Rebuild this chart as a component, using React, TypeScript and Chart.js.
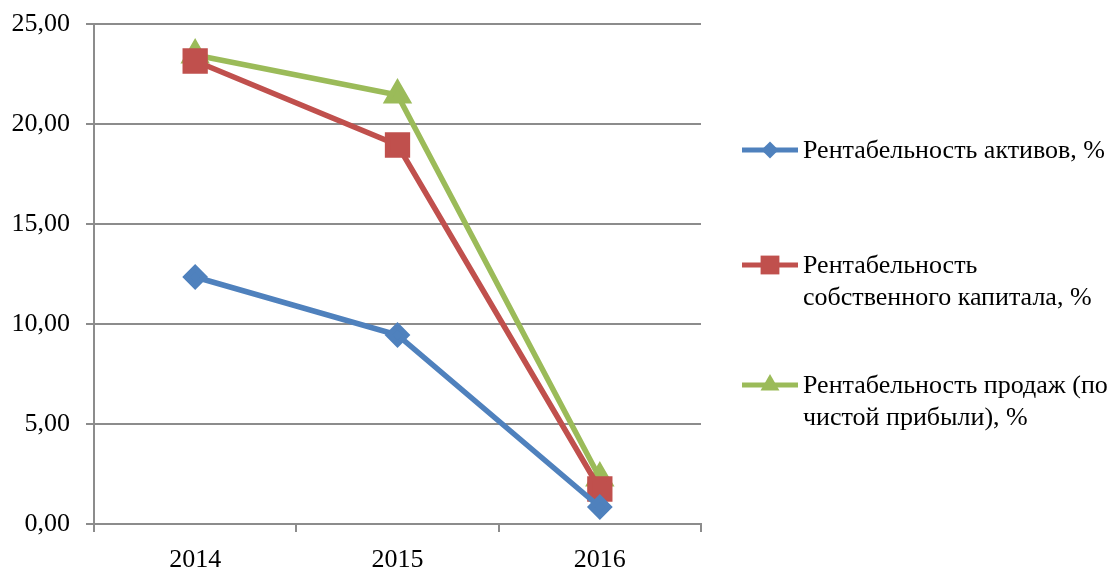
import React, { useEffect, useRef } from "react";
import { Chart, registerables } from "chart.js";

Chart.register(...registerables);

const years = ["2014", "2015", "2016"];
const assetsReturn = [12.35, 9.45, 0.85];
const equityReturn = [23.15, 18.95, 1.75];
const salesReturn = [23.45, 21.45, 2.3];

const seriesNames = [
  ["Рентабельность активов, %"],
  ["Рентабельность", "собственного капитала, %"],
  ["Рентабельность продаж (по", "чистой прибыли), %"],
];

const BLUE = "#4F81BD";
const RED = "#C0504D";
const GREEN = "#9BBB59";
const GRID = "#8c8c8c";
const FONT = "'Liberation Serif', 'Times New Roman', serif";
const FONT_SIZE = 26;

function drawMarker(ctx: CanvasRenderingContext2D, style: string, x: number, y: number, r: number) {
  ctx.beginPath();
  if (style === "rectRot") {
    ctx.moveTo(x, y - r);
    ctx.lineTo(x + r, y);
    ctx.lineTo(x, y + r);
    ctx.lineTo(x - r, y);
  } else if (style === "rect") {
    const h = r * Math.SQRT1_2;
    ctx.rect(x - h, y - h, 2 * h, 2 * h);
  } else {
    ctx.moveTo(x, y - r);
    ctx.lineTo(x + r * Math.cos(Math.PI / 6), y + r / 2);
    ctx.lineTo(x - r * Math.cos(Math.PI / 6), y + r / 2);
  }
  ctx.closePath();
  ctx.fill();
}

// Legend on the right, with wrapped labels
const sideLegend = {
  id: "sideLegend",
  afterDraw(chart: any) {
    const ctx: CanvasRenderingContext2D = chart.ctx;
    const rows = [150, 265, 385];
    ctx.save();
    chart.data.datasets.forEach((ds: any, i: number) => {
      const y = rows[i];
      ctx.strokeStyle = ds.borderColor;
      ctx.lineWidth = 5;
      ctx.beginPath();
      ctx.moveTo(742, y);
      ctx.lineTo(798, y);
      ctx.stroke();
      ctx.fillStyle = ds.backgroundColor;
      drawMarker(ctx, ds.pointStyle, 770, y, ds.pointRadius * 0.95);
      ctx.fillStyle = "#000";
      ctx.font = `${FONT_SIZE}px ${FONT}`;
      ctx.textBaseline = "middle";
      ctx.textAlign = "left";
      seriesNames[i].forEach((line, k) => {
        ctx.fillText(line, 803, y + 1 + k * 32);
      });
    });
    ctx.restore();
  },
};

export default function App() {
  const ref = useRef<HTMLCanvasElement>(null);

  useEffect(() => {
    if (!ref.current) return;
    const chart = new Chart(ref.current, {
      type: "line",
      data: {
        labels: years,
        datasets: [
          {
            label: seriesNames[0].join(" "),
            data: assetsReturn,
            borderColor: BLUE,
            backgroundColor: BLUE,
            borderWidth: 5.5,
            pointStyle: "rectRot",
            pointRadius: 9,
            pointHoverRadius: 9,
          },
          {
            label: seriesNames[1].join(" "),
            data: equityReturn,
            borderColor: RED,
            backgroundColor: RED,
            borderWidth: 5.5,
            pointStyle: "rect",
            pointRadius: 14,
            pointHoverRadius: 14,
          },
          {
            label: seriesNames[2].join(" "),
            data: salesReturn,
            borderColor: GREEN,
            backgroundColor: GREEN,
            borderWidth: 5.5,
            pointStyle: "triangle",
            pointRadius: 11.5,
            pointHoverRadius: 11.5,
          },
        ],
      },
      options: {
        animation: false,
        responsive: false,
        layout: { padding: { top: 24, right: 414, bottom: 0, left: 0 } },
        plugins: {
          legend: { display: false },
          tooltip: { enabled: false },
        },
        scales: {
          x: {
            offset: true,
            grid: {
              offset: true,
              drawOnChartArea: false,
              drawTicks: true,
              tickLength: 8,
              color: GRID,
              lineWidth: 2,
            },
            border: { display: true, color: GRID, width: 2 },
            ticks: {
              color: "#000",
              font: { family: FONT, size: FONT_SIZE },
              padding: 13,
            },
            afterFit(scale: any) {
              scale.height = 45;
              scale.paddingLeft = 0;
              scale.paddingRight = 0;
            },
          },
          y: {
            min: 0,
            max: 25,
            ticks: {
              stepSize: 5,
              color: "#000",
              font: { family: FONT, size: FONT_SIZE },
              padding: 16,
              callback: (v: any) => Number(v).toFixed(2).replace(".", ","),
            },
            grid: { color: GRID, lineWidth: 2, tickLength: 8 },
            border: { display: true, color: GRID, width: 2 },
            afterFit(scale: any) {
              scale.width = 94;
              scale.paddingTop = 0;
              scale.paddingBottom = 0;
            },
          },
        },
      },
      plugins: [sideLegend],
    });
    return () => chart.destroy();
  }, []);

  return (
    <div style={{ position: "absolute", left: 0, top: 0, width: 1115, height: 569, background: "#fff" }}>
      <canvas ref={ref} width={1115} height={569} />
    </div>
  );
}
